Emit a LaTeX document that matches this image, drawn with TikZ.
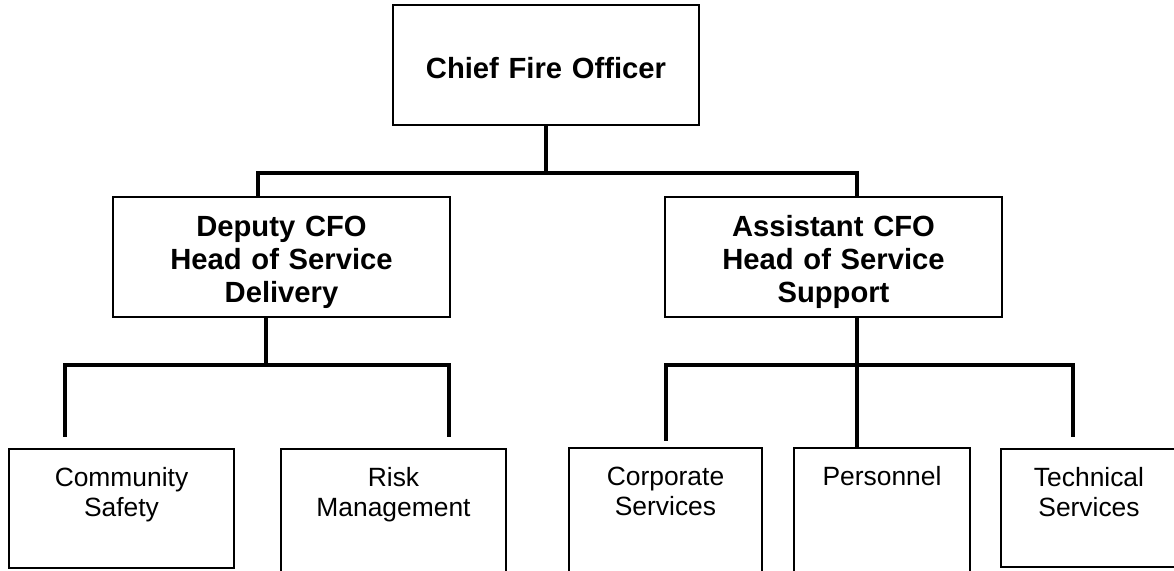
\documentclass[tikz,border=0pt]{standalone}
\usepackage{fontspec}
\setmainfont{Liberation Sans}
\usepackage{tikz}

\begin{document}
\begin{tikzpicture}[x=0.5pt, y=-0.5pt,
  head/.style={draw, line width=0.6pt, inner sep=0pt, outer sep=0pt, anchor=north,
    align=center, font=\fontsize{14.6}{16.5}\selectfont\bfseries},
  unit/.style={draw, line width=0.6pt, inner sep=0pt, outer sep=0pt, anchor=north,
    align=center, text height=18.85pt, font=\fontsize{13.2}{15}\selectfont},
  link/.style={line width=2.25pt}]
\useasboundingbox (0,0) rectangle (1174,571);
\clip (0,0) rectangle (1174,571);

% top two levels
\node[head, text width=153pt, text height=36.75pt, text depth=23.25pt] (chief) at (546,5) {Chief Fire Officer};
\node[head, text width=168.5pt, text height=19.75pt, text depth=40.25pt] (deputy) at (281.5,197) {Deputy CFO\\Head of Service\\Delivery};
\node[head, text width=168.5pt, text height=19.75pt, text depth=40.25pt] (assist) at (833.5,197) {Assistant CFO\\Head of Service\\Support};

% departments, text sits near the top of each box
\foreach \n/\x/\y/\w/\d/\t in {comm/121.5/449/112.5/40.65/{Community\\Safety},
                                risk/393.5/449/112.5/49/{Risk\\Management},
                                corp/665.5/448/96.5/49/{Corporate\\Services},
                                pers/882/448/88/49/{Personnel},
                                tech/1089/449/88/40.15/{Technical\\Services}} {
  \node[unit, text width=\w pt, text depth=\d pt] (\n) at (\x,\y) {\t};
}

% junction points of the bars
\coordinate (hub1) at (546,173);
\coordinate (bus1l) at (258,173);
\coordinate (bus1r) at (857,173);
\coordinate (hub2) at (266,365);
\coordinate (leg1) at (65,437);
\coordinate (leg2) at (449,437);
\coordinate (hub3) at (857,365);
\coordinate (leg3) at (666,441);
\coordinate (leg4) at (1073,437);

\draw[link] (chief.south -| hub1) -- (hub1);
\draw[link] (deputy.north -| bus1l) -- (bus1l) -- (bus1r) -- (assist.north -| bus1r);

\draw[link] (deputy.south -| hub2) -- (hub2);
\draw[link] (leg1) -- (leg1 |- hub2) -- (leg2 |- hub2) -- (leg2);

\draw[link] (assist.south -| hub3) -- (pers.north -| hub3);
\draw[link] (leg3) -- (leg3 |- hub3) -- (leg4 |- hub3) -- (leg4);
\end{tikzpicture}
\end{document}
